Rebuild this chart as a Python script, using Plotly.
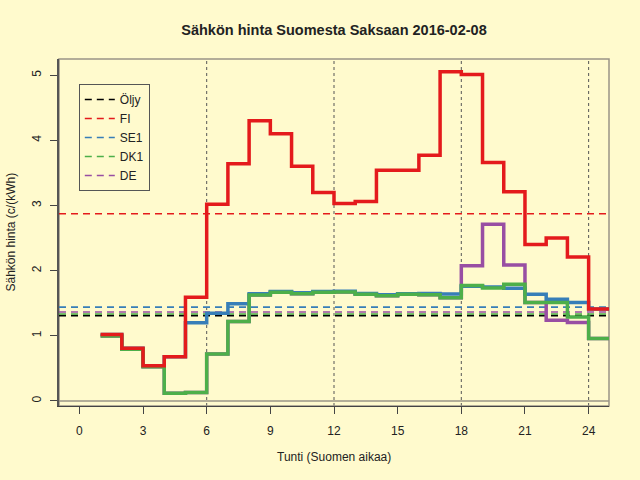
import plotly.graph_objects as go

# hourly prices c/kWh, hour 1..24 (step plot)
hours = list(range(1, 26))
fi = [1.02, 0.81, 0.54, 0.68, 1.59, 3.02, 3.64, 4.30, 4.10, 3.60, 3.20, 3.03,
      3.06, 3.54, 3.54, 3.77, 5.05, 5.01, 3.66, 3.21, 2.40, 2.50, 2.21, 1.41]
se1 = [1.02, 0.81, 0.54, 0.68, 1.20, 1.345, 1.49, 1.645, 1.68, 1.66, 1.68, 1.685,
       1.65, 1.63, 1.645, 1.65, 1.64, 1.76, 1.75, 1.73, 1.636, 1.56, 1.51, 1.41]
dk1 = [0.997, 0.795, 0.525, 0.12, 0.13, 0.72, 1.22, 1.625, 1.667, 1.646, 1.667, 1.672,
       1.636, 1.615, 1.636, 1.63, 1.585, 1.77, 1.733, 1.79, 1.51, 1.51, 1.29, 0.96]
de = [0.997, 0.795, 0.525, 0.12, 0.13, 0.72, 1.22, 1.625, 1.667, 1.646, 1.667, 1.672,
      1.636, 1.615, 1.636, 1.63, 1.585, 2.075, 2.71, 2.086, 1.51, 1.24, 1.205, 0.96]

# reference levels (dashed)
mean_names = ["Öljy", "FI", "SE1", "DK1", "DE"]
mean_vals = [1.31, 2.873, 1.44, 1.335, 1.365]
colors = {"Öljy": "#000000", "FI": "#E41A1C", "SE1": "#377EB8",
          "DK1": "#4DAF4A", "DE": "#984EA3"}

x_ticks = [0, 3, 6, 9, 12, 15, 18, 21, 24]
y_ticks = [0, 1, 2, 3, 4, 5]
guide_hours = [6, 12, 18, 24]

x_range = [-0.96, 24.96]
y_range = [-0.077, 5.247]

FONT = "Liberation Sans, Arial, sans-serif"
BG = "#FFFACD"

fig = go.Figure()

for name, v in zip(mean_names, mean_vals):
    fig.add_scatter(x=x_range, y=[v, v], mode="lines", name=name,
                    line=dict(color=colors[name], width=1.6, dash="7px,5px"))

steps = [("DE", de), ("SE1", se1), ("DK1", dk1), ("FI", fi)]
for name, vals in steps:
    fig.add_scatter(x=hours, y=vals + [vals[-1]], mode="lines", line_shape="hv",
                    line=dict(color=colors[name], width=3.5), showlegend=False,
                    hoverinfo="skip")

for h in guide_hours:
    fig.add_vline(x=h, line=dict(color="#555555", width=1, dash="dot"), layer="below")
fig.add_hline(y=0, line=dict(color="#9a9486", width=1.5), layer="below")

# box top/right
fig.add_shape(type="rect", xref="paper", yref="paper", x0=0, y0=0, x1=1, y1=1,
              line=dict(color="#9a9486", width=1.5), layer="below")

fig.update_layout(
    width=640, height=480,
    paper_bgcolor=BG, plot_bgcolor=BG,
    margin=dict(l=59, r=31, t=59, b=74),
    font=dict(family=FONT, size=12, color="#222222"),
    title=dict(text="<b>Sähkön hinta Suomesta Saksaan 2016-02-08</b>",
               x=0.5, xref="paper", y=1 - 30 / 480, yref="container",
               xanchor="center", yanchor="middle",
               font=dict(family=FONT, size=14.5, color="#222222")),
    legend=dict(x=0.036, y=0.928, xanchor="left", yanchor="top",
                bgcolor="rgba(0,0,0,0)", bordercolor="#555555", borderwidth=1,
                font=dict(family=FONT, size=12), tracegroupgap=0),
    showlegend=True,
)

fig.update_xaxes(range=x_range, tickvals=x_ticks, showgrid=False, zeroline=False,
                 showline=True, linecolor="#444444", linewidth=1.2,
                 ticks="outside", ticklen=7, tickcolor="#444444",
                 ticklabelstandoff=6)
fig.update_yaxes(range=y_range, tickvals=y_ticks, showgrid=False, zeroline=False,
                 showline=True, linecolor="#555555", linewidth=1.5,
                 ticks="outside", ticklen=7, tickcolor="#444444",
                 tickangle=-90, ticklabelstandoff=4)

fig.add_annotation(text="Tunti (Suomen aikaa)", xref="paper", yref="paper",
                   x=0.5, y=-0.147, xanchor="center", yanchor="middle",
                   showarrow=False, font=dict(family=FONT, size=12))
fig.add_annotation(text="Sähkön hinta (c/(kWh)", xref="paper", yref="paper",
                   x=-0.089, y=0.5, xanchor="center", yanchor="middle",
                   textangle=-90, showarrow=False, font=dict(family=FONT, size=12))

# page has a default body margin; drop it so the figure sits at 0,0
fig.write_html("out.html", config={"displayModeBar": False},
               post_script="document.body.style.margin='0';")
